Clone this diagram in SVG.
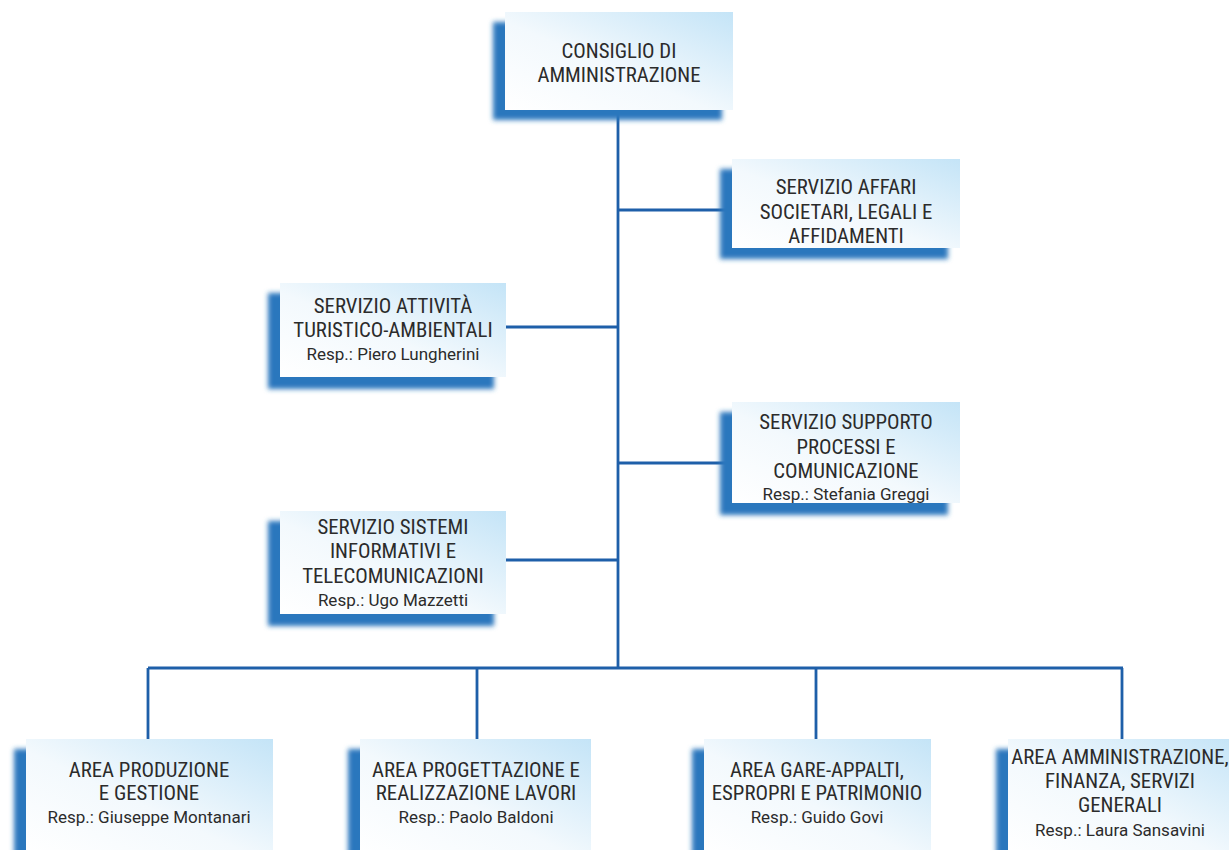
<svg xmlns="http://www.w3.org/2000/svg" width="1229" height="850" viewBox="0 0 1229 850">
<defs>
<linearGradient id="g" x1="0" y1="1" x2="1" y2="0">
<stop offset="0" stop-color="#ffffff"/>
<stop offset="0.45" stop-color="#f3f9fd"/>
<stop offset="1" stop-color="#c4e4f7"/>
</linearGradient>
<filter id="blur" x="-10%" y="-20%" width="120%" height="140%">
<feGaussianBlur stdDeviation="2.8"/>
</filter>
</defs>
<style>
.sh{fill:#2a77bd;filter:url(#blur)}
.bx{fill:url(#g)}
.t{font-family:"Roboto Condensed","Liberation Sans Narrow","DejaVu Sans Condensed",Roboto,sans-serif;font-size:20.8px;fill:#2b2b2b;text-anchor:middle}
.r{font-family:Roboto,"Liberation Sans",sans-serif;font-size:17px}
.ln{stroke:#1e5fa9;stroke-width:2.8;fill:none}
</style>
<rect width="1229" height="850" fill="#ffffff"/>
<g id="connectors">
<path class="ln" d="M618 110V669M618 210H732M506 327H618M618 463H732M506 560H618M148 668H1123M148 668V740M477 668V740M816 668V740M1122 668V740"/>
</g>
<g id="n-consiglio">
<rect class="sh" x="493" y="22" width="229" height="98"/>
<rect class="bx" x="505" y="12" width="228" height="98"/>
<text class="t" x="619" y="58">CONSIGLIO DI</text>
<text class="t" x="619" y="82">AMMINISTRAZIONE</text>
</g>
<g id="n-affari">
<rect class="sh" x="720" y="169" width="228" height="90"/>
<rect class="bx" x="732" y="159" width="228" height="89"/>
<text class="t" x="846" y="194">SERVIZIO AFFARI</text>
<text class="t" x="846" y="219">SOCIETARI, LEGALI E</text>
<text class="t" x="846" y="243">AFFIDAMENTI</text>
</g>
<g id="n-turistico">
<rect class="sh" x="268" y="293" width="226" height="96"/>
<rect class="bx" x="280" y="283" width="226" height="94"/>
<text class="t" x="393" y="313">SERVIZIO ATTIVITÀ</text>
<text class="t" x="393" y="337">TURISTICO-AMBIENTALI</text>
<text class="t r" x="393" y="360">Resp.: Piero Lungherini</text>
</g>
<g id="n-supporto">
<rect class="sh" x="720" y="412" width="228" height="103"/>
<rect class="bx" x="732" y="402" width="228" height="101"/>
<text class="t" x="846" y="429">SERVIZIO SUPPORTO</text>
<text class="t" x="846" y="454">PROCESSI E</text>
<text class="t" x="846" y="478">COMUNICAZIONE</text>
<text class="t r" x="846" y="500">Resp.: Stefania Greggi</text>
</g>
<g id="n-sistemi">
<rect class="sh" x="268" y="521" width="226" height="105"/>
<rect class="bx" x="280" y="511" width="226" height="103"/>
<text class="t" x="393" y="534">SERVIZIO SISTEMI</text>
<text class="t" x="393" y="558">INFORMATIVI E</text>
<text class="t" x="393" y="583">TELECOMUNICAZIONI</text>
<text class="t r" x="393" y="606">Resp.: Ugo Mazzetti</text>
</g>
<g id="n-produzione">
<rect class="sh" x="14" y="749" width="247" height="110"/>
<rect class="bx" x="26" y="739" width="247" height="115"/>
<text class="t" x="149" y="777">AREA PRODUZIONE</text>
<text class="t" x="149" y="800">E GESTIONE</text>
<text class="t r" x="149" y="823">Resp.: Giuseppe Montanari</text>
</g>
<g id="n-progettazione">
<rect class="sh" x="348" y="749" width="230" height="110"/>
<rect class="bx" x="360" y="739" width="231" height="115"/>
<text class="t" x="476" y="777">AREA PROGETTAZIONE E</text>
<text class="t" x="476" y="800">REALIZZAZIONE LAVORI</text>
<text class="t r" x="476" y="823">Resp.: Paolo Baldoni</text>
</g>
<g id="n-gare">
<rect class="sh" x="692" y="749" width="228" height="110"/>
<rect class="bx" x="704" y="739" width="227" height="115"/>
<text class="t" x="817" y="777">AREA GARE-APPALTI,</text>
<text class="t" x="817" y="800">ESPROPRI E PATRIMONIO</text>
<text class="t r" x="817" y="823">Resp.: Guido Govi</text>
</g>
<g id="n-amministrazione">
<rect class="sh" x="996" y="749" width="240" height="110"/>
<rect class="bx" x="1008" y="739" width="230" height="115"/>
<text class="t" x="1120" y="764">AREA AMMINISTRAZIONE,</text>
<text class="t" x="1120" y="788">FINANZA, SERVIZI</text>
<text class="t" x="1120" y="812">GENERALI</text>
<text class="t r" x="1120" y="836">Resp.: Laura Sansavini</text>
</g>
</svg>
